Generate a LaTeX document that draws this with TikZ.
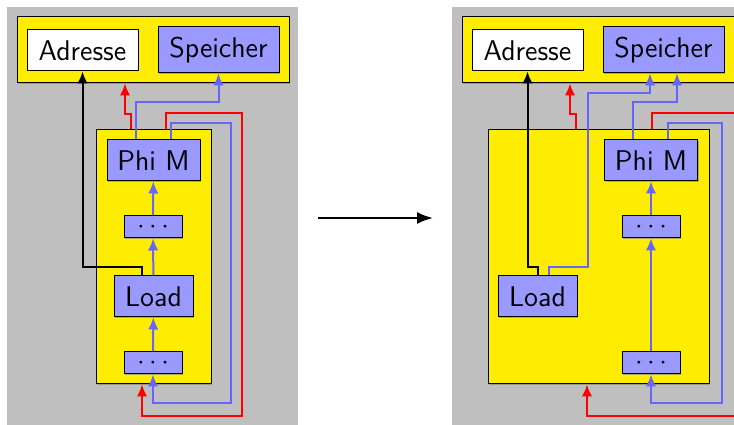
\documentclass[tikz,border=0pt]{standalone}
\usetikzlibrary{arrows.meta,shadows}
\definecolor{boxyellow}{rgb}{1,0.93,0}
\begin{document}
\begin{tikzpicture}[
		font=\sffamily\fontsize{11.4pt}{13pt}\selectfont,
		shade/.style={drop shadow={shadow xshift=0.5pt, shadow yshift=-0.5pt, opacity=0.6}},
		frame/.style={draw, rectangle, fill=boxyellow, inner sep=0pt, shade},
		box/.style={draw, rectangle, fill=blue!40, inner sep=0pt, minimum height=16.4pt, shade},
		dotbox/.style={box, minimum width=23.2pt, minimum height=8.8pt},
		link/.style={thick, -{Latex[length=4.8pt, width=4.2pt]}},
		flow/.style={link, blue!60},
		back/.style={link, red},
	]
	\useasboundingbox (0,0) rectangle (293.6pt,-170pt);
	% background panels
	\fill[gray!50] (2.8pt,-2.8pt) rectangle (119.2pt,-175pt);
	\fill[gray!50] (180.8pt,-2.8pt) rectangle (310pt,-175pt);

	% left side
	\node[frame, minimum width=108.8pt, minimum height=26.4pt] (topL) at (61.2pt,-20pt) {};
	\node[draw, rectangle, fill=white, inner sep=0pt, minimum width=44.4pt, minimum height=16.4pt] (adrL) at (33pt,-20.2pt) {Adresse};
	\node[box, minimum width=48.4pt, minimum height=18.4pt] (speL) at (87.4pt,-20pt) {Speicher};
	\node[frame, minimum width=46pt, minimum height=101.6pt] (boxL) at (61.4pt,-102.8pt) {};
	\node[box, minimum width=37.2pt] (phiL) at (61.4pt,-64.2pt) {Phi M};
	\node[dotbox] (dotsAL) at (61.2pt,-90.8pt) {$\cdots$};
	\node[box, minimum width=31.6pt] (loadL) at (61.4pt,-118.6pt) {Load};
	\node[dotbox] (dotsBL) at (61.2pt,-145.2pt) {$\cdots$};

	\draw[link] ([xshift=-4.6pt]loadL.north) -- ++(0,3.2pt) -| (adrL.south);
	\draw[back] ([xshift=-9pt]boxL.north) -- ++(0,6pt) -| ([xshift=-11.2pt]topL.south);
	\draw[flow] ([xshift=-7pt]phiL.north) -- ++(0,14.8pt) -| (speL.south);
	\draw[back] ([xshift=5pt]boxL.north) -- ++(0,6.4pt) -| ++(30.4pt,-121.2pt) -| ([xshift=-4.6pt]boxL.south);
	\draw[flow] ([xshift=7pt]phiL.north) -- ++(0,6.4pt) -| ++(24pt,-112pt) -| (dotsBL.south);
	\draw[flow] (dotsBL) -- (loadL);
	\draw[flow] (loadL) -- (dotsAL);
	\draw[flow] (dotsAL) -- (phiL);

	% transformation
	\coordinate (go) at (127.2pt,-87.2pt);
	\coordinate (come) at (173.2pt,-87.2pt);
	\draw[thick, -{Latex[length=6.4pt, width=4.8pt]}] (go) -- (come);

	% right side
	\node[frame, minimum width=113.2pt, minimum height=26.4pt] (topR) at (241.4pt,-20pt) {};
	\node[draw, rectangle, fill=white, inner sep=0pt, minimum width=44.4pt, minimum height=16.4pt] (adrR) at (211pt,-20.2pt) {Adresse};
	\node[box, minimum width=48.4pt, minimum height=18.4pt] (speR) at (265.4pt,-20pt) {Speicher};
	\node[frame, minimum width=88.4pt, minimum height=101.6pt] (boxR) at (239.4pt,-102.8pt) {};
	\node[box, minimum width=37.2pt] (phiR) at (260.4pt,-64.2pt) {Phi M};
	\node[dotbox] (dotsAR) at (260.4pt,-90.8pt) {$\cdots$};
	\node[box, minimum width=31.6pt] (loadR) at (215pt,-118.6pt) {Load};
	\node[dotbox] (dotsBR) at (260.4pt,-145.2pt) {$\cdots$};

	\draw[link] (loadR.north) -- ++(0,3.2pt) -| (adrR.south);
	\draw[back] ([xshift=-9pt]boxR.north) -- ++(0,6pt) -| ([xshift=-13.4pt]topR.south);
	\draw[flow] ([xshift=4.6pt]loadR.north) -- ++(0,3.2pt) -| ++(15.6pt,69.6pt) -| ([xshift=-5.4pt]speR.south);
	\draw[flow] ([xshift=-7.2pt]phiR.north) -- ++(0,14.8pt) -| ([xshift=5.4pt]speR.south);
	\draw[back] ([xshift=21.4pt]boxR.north) -- ++(0,6.4pt) -| ++(43.2pt,-121.2pt) -| ([xshift=-4.6pt]boxR.south);
	\draw[flow] ([xshift=6.8pt]phiR.north) -- ++(0,6.4pt) -| ++(21.6pt,-112pt) -| (dotsBR.south);
	\draw[flow] (dotsBR) -- (dotsAR);
	\draw[flow] (dotsAR) -- (phiR);
\end{tikzpicture}
\end{document}
